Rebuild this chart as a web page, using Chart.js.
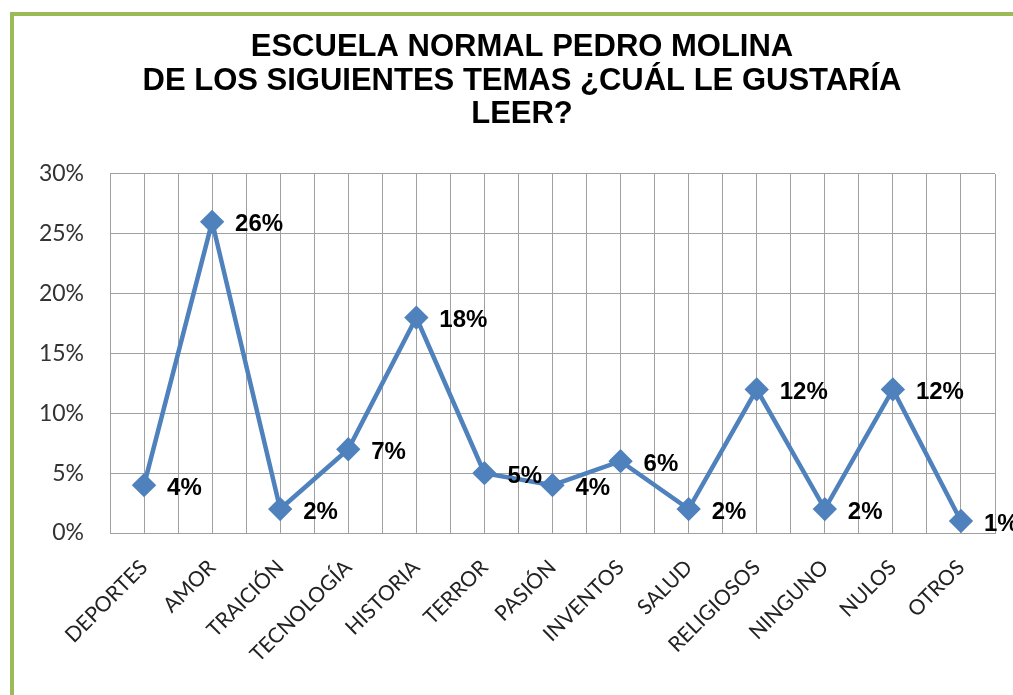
<!DOCTYPE html>
<html>
<head>
<meta charset="utf-8">
<script src="https://cdn.jsdelivr.net/npm/chart.js@4/dist/chart.umd.min.js"></script>
<style>
  html, body { margin: 0; padding: 0; background: #fff; overflow: hidden; }
  #frame { position: absolute; left: 10px; top: 12px; width: 1100px; height: 800px;
           border-left: 4px solid #9bbb59; border-top: 4px solid #9bbb59; }
  #wrap { position: absolute; left: 0; top: 0; width: 1013px; height: 695px; }
</style>
</head>
<body>
<div id="frame"></div>
<div id="wrap"><canvas id="chrt" width="1013" height="695"></canvas></div>
<script>
// categories and values (percent)
var temas = ["DEPORTES", "AMOR", "TRAICIÓN", "TECNOLOGÍA", "HISTORIA", "TERROR", "PASIÓN",
             "INVENTOS", "SALUD", "RELIGIOSOS", "NINGUNO", "NULOS", "OTROS"];
var porcentajes = [4, 26, 2, 7, 18, 5, 4, 6, 2, 12, 2, 12, 1];
var tituloLineas = ["ESCUELA NORMAL PEDRO MOLINA", "DE LOS SIGUIENTES TEMAS ¿CUÁL LE GUSTARÍA", "LEER?"];

var puntos = [];
for (var i = 0; i < porcentajes.length; i++) {
  puntos.push({x: i, y: porcentajes[i]});
}

// value labels to the right of each marker
var etiquetas = {
  id: 'etiquetas',
  afterDatasetsDraw: function(chart) {
    var ctx = chart.ctx;
    var meta = chart.getDatasetMeta(0);
    ctx.save();
    ctx.font = "bold 24px 'Liberation Sans', Arial, sans-serif";
    ctx.fillStyle = "#000";
    ctx.textAlign = "left";
    ctx.textBaseline = "middle";
    meta.data.forEach(function(el, idx) {
      ctx.fillText(porcentajes[idx] + "%", el.x + 23, el.y + 3);
    });
    ctx.restore();
  }
};

var grisGrid = "#a0a0a0";

var myChart = new Chart(document.getElementById("chrt").getContext('2d'), {
  type: 'line',
  data: {
    datasets: [{
      data: puntos,
      borderColor: "#4f81bd",
      backgroundColor: "#4f81bd",
      borderWidth: 4.5,
      pointStyle: 'rectRot',
      pointRadius: 9,
      pointHoverRadius: 9,
      tension: 0
    }]
  },
  plugins: [etiquetas],
  options: {
    responsive: false,
    animation: false,
    events: [],
    // title sits a bit right of the canvas centre, so the padding is lopsided
    layout: { padding: { left: 18, right: -13, top: 0, bottom: 0 } },
    plugins: {
      legend: { display: false },
      tooltip: { enabled: false },
      title: {
        display: true,
        text: tituloLineas,
        color: "#000",
        font: { family: "'Liberation Sans', Arial, sans-serif", size: 31, weight: 'bold', lineHeight: 1.08 },
        padding: { top: 31, bottom: 42.5 }
      }
    },
    scales: {
      x: {
        type: 'linear',
        min: -0.5,
        max: 12.5,
        afterFit: function(scale) {
          scale.height = 162;
          scale.paddingLeft = 0;
          scale.paddingRight = 18;
        },
        ticks: {
          stepSize: 0.5,
          autoSkip: false,
          minRotation: 45,
          maxRotation: 45,
          padding: 22,
          color: "#222",
          font: { family: "Lato, 'Open Sans', sans-serif", size: 21 },
          callback: function(v) { return Number.isInteger(v) ? temas[v] : ''; }
        },
        grid: { color: grisGrid, lineWidth: 1, drawTicks: false },
        border: { color: grisGrid, width: 1 }
      },
      y: {
        min: 0,
        max: 30,
        afterFit: function(scale) {
          scale.width = 92;
          scale.paddingTop = 0;
          scale.paddingBottom = 0;
        },
        ticks: {
          stepSize: 5,
          padding: 26,
          color: "#333",
          font: { family: "Lato, 'Open Sans', sans-serif", size: 23 },
          callback: function(v) { return v + "%"; }
        },
        grid: { color: grisGrid, lineWidth: 1, drawTicks: false },
        border: { color: grisGrid, width: 1 }
      }
    }
  }
});
</script>
</body>
</html>
